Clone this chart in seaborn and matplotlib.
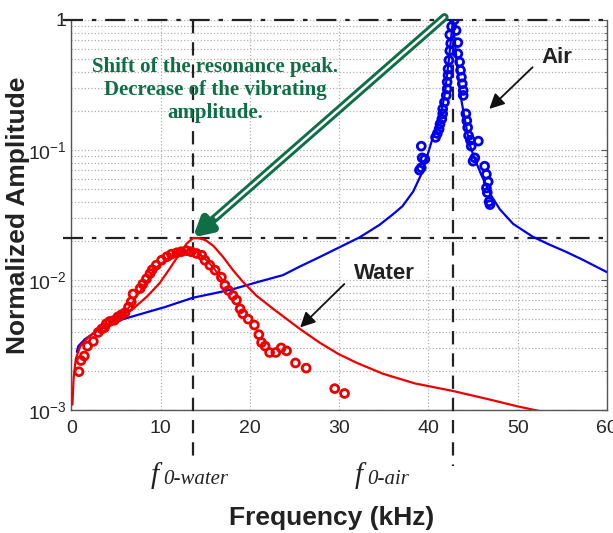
import numpy as np
import pandas as pd
import matplotlib
matplotlib.use('Agg')
import matplotlib.pyplot as plt
import seaborn as sns

# fitted curve, air
air_fit_f = [0.6, 0.77, 1.5, 3.0, 5.8, 10.5, 13.6, 16.0, 18.1, 21.0, 23.7, 25.6, 27.8, 30.0,
             32.3, 34.5, 36.0, 37.1, 38.3, 39.2, 39.8, 40.5, 41.3, 41.8, 42.3, 42.75, 43.2,
             43.7, 44.6, 45.2, 45.9, 47.0, 48.0, 49.5, 51.7, 53.5, 55.4, 57.3, 60.0]
air_fit_a = [0.0028, 0.0031, 0.0035, 0.0041, 0.0050, 0.0062, 0.0073, 0.0079, 0.0085, 0.0097,
             0.0109, 0.0127, 0.0150, 0.0178, 0.0213, 0.0265, 0.0319, 0.037, 0.048, 0.065,
             0.087, 0.125, 0.178, 0.26, 0.5, 1.0, 0.45, 0.24, 0.111, 0.085, 0.065, 0.045,
             0.035, 0.027, 0.0215, 0.0188, 0.0165, 0.0143, 0.0115]

# fitted curve, water
water_fit_f = [0.1, 0.25, 0.5, 1.0, 2.0, 3.2, 5.0, 6.9, 8.5, 9.9, 11.0, 12.0, 12.9, 13.6,
               14.2, 15.0, 15.9, 17.0, 18.1, 19.2, 20.7, 22.6, 25.6, 27.8, 29.9, 32.0, 34.9,
               38.5, 42.75, 46.5, 49.9, 53.4]
water_fit_a = [0.0011, 0.0018, 0.0025, 0.0031, 0.0037, 0.0042, 0.0050, 0.0060, 0.0075,
               0.0095, 0.0122, 0.0155, 0.0190, 0.0210, 0.0210, 0.0203, 0.0183, 0.0150,
               0.0119, 0.0097, 0.0076, 0.0060, 0.0042, 0.0033, 0.0027, 0.0023, 0.0019,
               0.0016, 0.0014, 0.00122, 0.00107, 0.00095]

# smoothed measured line through the water peak
water_line_f = [3.5, 5.0, 6.5, 8.0, 9.5, 11.0, 12.3, 13.4, 14.2, 15.0, 16.0, 17.0]
water_line_a = [0.0043, 0.0050, 0.0062, 0.0088, 0.0125, 0.0150, 0.0165, 0.0170, 0.0162,
                0.0145, 0.0122, 0.0098]

# measured points, water
water_f = [0.84, 1.06, 1.44, 1.8, 2.45, 3.0, 3.4, 3.7, 3.9, 4.3, 4.8, 5.2, 5.6, 6.0, 6.4, 6.7,
           6.9, 7.7, 8.0, 8.4, 8.8, 9.05, 9.5, 10.1, 10.7, 11.2, 11.8, 12.3, 12.9, 13.4, 14.0,
           14.6, 14.95, 15.5, 16.1, 16.8, 17.2, 17.6, 18.1, 18.5, 18.9, 19.2, 19.8, 20.5, 21.0,
           21.3, 21.7, 22.2, 22.9, 23.5, 24.1, 25.1, 26.3, 29.5, 30.6]
water_a = [0.00197, 0.0024, 0.0026, 0.0031, 0.00337, 0.00395, 0.0042, 0.0043, 0.0046, 0.0048,
           0.0049, 0.0052, 0.0054, 0.0056, 0.0062, 0.0068, 0.0078, 0.0086, 0.0093, 0.0102,
           0.0112, 0.0120, 0.0130, 0.0142, 0.0151, 0.0158, 0.0162, 0.0165, 0.0168, 0.0165,
           0.0160, 0.0155, 0.0142, 0.0130, 0.0119, 0.0105, 0.0091, 0.0083, 0.0076, 0.0070,
           0.0060, 0.0055, 0.0050, 0.0045, 0.0038, 0.0033, 0.0031, 0.00277, 0.00277, 0.0030,
           0.00285, 0.0023, 0.0021, 0.00146, 0.00134]

# measured points, air
air_f = [42.9, 42.6, 43.1, 42.4, 43.3, 42.5, 42.4, 43.3, 43.5, 42.3, 42.2, 43.6, 42.2, 43.7,
         42.1, 43.8, 42.1, 43.9, 42.0, 43.9, 41.8, 41.6, 41.6, 41.5, 41.3, 41.2, 41.0, 40.8,
         44.2, 44.3, 44.4, 44.5, 44.7, 45.6, 44.8, 45.2, 45.0, 46.3, 46.5, 46.7, 46.5, 46.6,
         46.8, 46.9, 39.2, 39.3, 39.6, 39.0, 39.2]
air_a = [1.0, 0.89, 0.83, 0.77, 0.67, 0.66, 0.58, 0.55, 0.475, 0.49, 0.42, 0.41, 0.375, 0.363,
         0.333, 0.323, 0.295, 0.287, 0.263, 0.263, 0.233, 0.207, 0.19, 0.173, 0.158, 0.145,
         0.134, 0.125, 0.19, 0.168, 0.149, 0.129, 0.119, 0.117, 0.107, 0.087, 0.082, 0.075,
         0.065, 0.057, 0.051, 0.047, 0.040, 0.038, 0.107, 0.087, 0.085, 0.070, 0.073]

f0_water = 13.6
f0_air = 42.75
peak_water = 0.0212
y_ticks = [1e-3, 1e-2, 1e-1, 1]
y_ticklabels = ['$\\mathregular{10^{-3}}$', '$\\mathregular{10^{-2}}$', '$\\mathregular{10^{-1}}$', '1']
x_ticks = [0, 10, 20, 30, 40, 50, 60]

sns.set_style('white')
plt.rcParams['font.family'] = ['Liberation Sans', 'DejaVu Sans']
green = '#0e6e45'

fig = plt.figure(figsize=(6.13, 5.33), dpi=100)
ax = fig.add_axes([0.1166, 0.2308, 0.8734, 0.7317])
ax.set_yscale('log')

# grid
ax.grid(True, which='major', axis='both', color='#b0b0b0', ls=':', lw=0.9)
ax.grid(True, which='minor', axis='y', color='#b0b0b0', ls=':', lw=0.9)

# reference lines
ax.plot([-1, 60], [1, 1], color='#222222', lw=1.6, clip_on=False, zorder=3,
        dashes=(9, 4, 2, 4))
ax.plot([-1, 60], [peak_water, peak_water], color='#222222', lw=1.6, clip_on=False, zorder=3,
        dashes=(9, 4, 2, 4))
ax.plot([f0_water, f0_water], [1, 4.1e-4], color='#222222', lw=1.6, clip_on=False, zorder=3,
        dashes=(6, 4))
ax.plot([f0_air, f0_air], [1, 3.7e-4], color='#222222', lw=1.6, clip_on=False, zorder=3,
        dashes=(6, 4))

# curves
sns.lineplot(x=air_fit_f, y=air_fit_a, color='#0000ee', lw=1.6, sort=False, estimator=None, ax=ax, zorder=4)
sns.lineplot(x=water_fit_f, y=water_fit_a, color='#ee0000', lw=1.6, sort=False, estimator=None, ax=ax, zorder=4)
sns.lineplot(x=water_line_f, y=water_line_a, color='#ee0000', lw=1.4, sort=False, estimator=None, ax=ax, zorder=4)

# data points
sns.scatterplot(x=water_f, y=water_a, marker='o', s=32, fc='none', ec='#ee0000', linewidth=2.0, ax=ax, zorder=5)
sns.scatterplot(x=air_f, y=air_a, marker='o', s=32, fc='none', ec='#0000ee', linewidth=2.0, ax=ax, zorder=5)

ax.set_xlim(0, 60)
ax.set_ylim(1e-3, 1)
ax.set_xticks(x_ticks)
ax.set_yticks(y_ticks)
ax.set_yticklabels(y_ticklabels)
ax.tick_params(axis='both', which='both', direction='in', labelsize=14, color='#555555',
               right=True, length=4)
ax.tick_params(axis='y', which='minor', length=2.5)
ax.tick_params(axis='x', pad=7)
for s in ['left', 'bottom', 'right']:
    ax.spines[s].set_color('#555555')
    ax.spines[s].set_linewidth(1.0)
ax.spines['top'].set_visible(False)

ax.set_xlabel('Frequency (kHz)', fontsize=19, fontweight='bold', color='#222222', va='center')
ax.set_ylabel('Normalized Amplitude', fontsize=19, fontweight='bold', color='#222222', va='center')
ax.xaxis.set_label_coords(0.485, -0.277)
ax.yaxis.set_label_coords(-0.1, 0.5)

# green arrow (double shaft)
ax.annotate('', xy=(13.6, 0.0212), xytext=(41.8, 1.05), annotation_clip=False,
            arrowprops=dict(arrowstyle='-|>,head_length=1.0,head_width=0.55', lw=6.0,
                            color=green, shrinkA=0, shrinkB=0))
ax.annotate('', xy=(13.6, 0.0212), xytext=(41.8, 1.05), annotation_clip=False,
            arrowprops=dict(arrowstyle='-', lw=1.8, color='white', shrinkA=0, shrinkB=22))
ax.text(16.1, 0.287, 'Shift of the resonance peak.\nDecrease of the vibrating\namplitude.',
        ha='center', va='center', color=green, fontsize=15, fontweight='bold',
        family='Liberation Serif', linespacing=1.2)

# labels with arrows
ax.annotate('', xy=(46.6, 0.2), xytext=(51.9, 0.448),
            arrowprops=dict(arrowstyle='-|>,head_length=0.9,head_width=0.45', lw=1.3, color='#111111'))
ax.text(54.4, 0.516, 'Air', ha='center', va='center', fontsize=16, fontweight='bold', color='#222222')
ax.annotate('', xy=(25.4, 0.00417), xytext=(30.8, 0.00964),
            arrowprops=dict(arrowstyle='-|>,head_length=0.9,head_width=0.45', lw=1.3, color='#111111'))
ax.text(35.1, 0.0113, 'Water', ha='center', va='center', fontsize=16, fontweight='bold', color='#222222')

# f0 labels under the axis
for fx, sub in [(155, '0-water'), (359, '0-air')]:
    fig.text(fx / 613, 1 - 476 / 533, 'f', ha='center', va='center', fontsize=21,
             style='italic', family='Liberation Serif', color='#222222')
    fig.text((fx + 8) / 613, 1 - 484 / 533, sub, ha='left', va='baseline', fontsize=15,
             style='italic', family='Liberation Serif', color='#222222')

fig.savefig('out.png', dpi=100)
